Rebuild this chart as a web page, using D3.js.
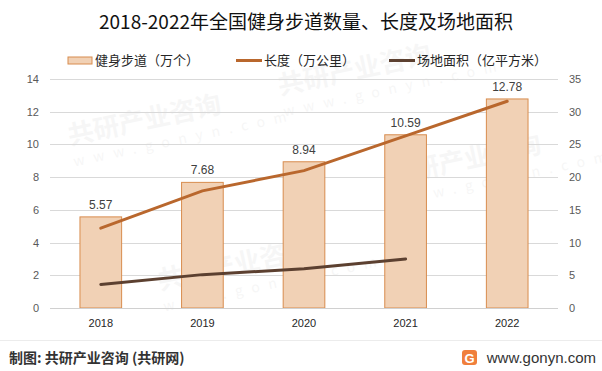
<!DOCTYPE html>
<html>
<head>
<meta charset="utf-8">
<script src="https://cdn.jsdelivr.net/npm/d3@7"></script>
<style>
  body { margin: 0; background: #fff; }
  svg { display: block; font-family: "Noto Sans CJK SC", "Noto Sans", sans-serif; }
</style>
</head>
<body>
<svg id="chart"></svg>
<script>
// chart data
const years = ['2018', '2019', '2020', '2021', '2022'];
const trailCount = [5.57, 7.68, 8.94, 10.59, 12.78];      // 健身步道（万个）
const trailLength = [12.2, 17.9, 21.0, 26.3, 31.6];       // 长度（万公里）
const siteArea = [3.6, 5.1, 6.0, 7.5, null];              // 场地面积（亿平方米）
const leftTicks = [0, 2, 4, 6, 8, 10, 12, 14];
const rightTicks = [0, 5, 10, 15, 20, 25, 30, 35];

const width = 602;
const height = 371;
const margin = { top: 79, right: 44, bottom: 63, left: 50 };
const innerWidth = width - margin.left - margin.right;
const innerHeight = height - margin.top - margin.bottom;

const barColor = '#f1d1b5';
const barStroke = '#d88c4e';
const lengthColor = '#b9672d';
const areaColor = '#5c4030';
const numFont = '"Liberation Sans", Arial, sans-serif';

const svg = d3.select('#chart')
  .attr('width', width)
  .attr('height', height);

// faint watermarks
const marks = [[70, 145], [280, 95], [390, 185], [160, 290]];
marks.forEach(([mx, my]) => {
  const w = svg.append('g')
    .attr('transform', `translate(${mx},${my}) rotate(-12)`)
    .attr('fill', '#000')
    .attr('opacity', 0.03);
  w.append('text').attr('font-size', 26).attr('font-weight', 700).text('共研产业咨询');
  w.append('text').attr('y', 22).attr('font-size', 14).attr('letter-spacing', 9).text('www.gonyn.com');
});

// title
svg.append('text')
  .attr('x', 306)
  .attr('y', 29)
  .attr('text-anchor', 'middle')
  .attr('font-size', 19)
  .attr('fill', '#111')
  .text('2018-2022年全国健身步道数量、长度及场地面积');

// scales
const x = d3.scaleBand()
  .domain(years)
  .range([0, innerWidth])
  .paddingInner(0.59)
  .paddingOuter(0.295);

const yLeft = d3.scaleLinear().domain([0, 14]).range([innerHeight, 0]);
const yRight = d3.scaleLinear().domain([0, 35]).range([innerHeight, 0]);

const g = svg.append('g')
  .attr('transform', `translate(${margin.left},${margin.top})`);

// gridlines
g.selectAll('.grid')
  .data(leftTicks)
  .enter()
  .append('line')
  .attr('x1', 0)
  .attr('x2', innerWidth)
  .attr('y1', d => Math.round(yLeft(d)) + 0.5)
  .attr('y2', d => Math.round(yLeft(d)) + 0.5)
  .attr('stroke', '#d9d9d9')
  .attr('stroke-width', 1);

// left tick labels
g.selectAll('.left-tick')
  .data(leftTicks)
  .enter()
  .append('text')
  .attr('x', -11)
  .attr('y', d => yLeft(d) + 4)
  .attr('text-anchor', 'end')
  .attr('font-size', 11)
  .attr('fill', '#595959')
  .attr('font-family', numFont)
  .text(d => d);

// right tick labels
g.selectAll('.right-tick')
  .data(rightTicks)
  .enter()
  .append('text')
  .attr('x', innerWidth + 11)
  .attr('y', d => yRight(d) + 4)
  .attr('font-size', 11)
  .attr('fill', '#595959')
  .attr('font-family', numFont)
  .text(d => d);

// bars
g.selectAll('.bar')
  .data(years)
  .enter()
  .append('rect')
  .attr('x', d => x(d))
  .attr('y', (d, i) => yLeft(trailCount[i]))
  .attr('width', x.bandwidth())
  .attr('height', (d, i) => innerHeight - yLeft(trailCount[i]))
  .attr('fill', barColor)
  .attr('stroke', barStroke)
  .attr('stroke-width', 1);

// bar labels
g.selectAll('.bar-label')
  .data(years)
  .enter()
  .append('text')
  .attr('x', d => x(d) + x.bandwidth() / 2)
  .attr('y', (d, i) => yLeft(trailCount[i]) - 8)
  .attr('text-anchor', 'middle')
  .attr('font-size', 12)
  .attr('fill', '#404040')
  .attr('font-family', numFont)
  .text((d, i) => trailCount[i].toFixed(2));

// x axis line and labels
g.append('line')
  .attr('x1', 0)
  .attr('x2', innerWidth)
  .attr('y1', innerHeight + 0.5)
  .attr('y2', innerHeight + 0.5)
  .attr('stroke', '#d0d0d0');

g.selectAll('.x-label')
  .data(years)
  .enter()
  .append('text')
  .attr('x', d => x(d) + x.bandwidth() / 2)
  .attr('y', innerHeight + 19)
  .attr('text-anchor', 'middle')
  .attr('font-size', 11)
  .attr('fill', '#262626')
  .attr('font-family', numFont)
  .text(d => d);

// lines (right axis)
const line = d3.line()
  .defined(d => d.v != null)
  .x(d => x(d.year) + x.bandwidth() / 2)
  .y(d => yRight(d.v));

g.append('path')
  .datum(years.map((year, i) => ({ year, v: trailLength[i] })))
  .attr('d', line)
  .attr('fill', 'none')
  .attr('stroke', lengthColor)
  .attr('stroke-width', 3)
  .attr('stroke-linecap', 'round');

g.append('path')
  .datum(years.map((year, i) => ({ year, v: siteArea[i] })))
  .attr('d', line)
  .attr('fill', 'none')
  .attr('stroke', areaColor)
  .attr('stroke-width', 3)
  .attr('stroke-linecap', 'round');

// legend
const legend = svg.append('g').attr('font-size', 13).attr('fill', '#262626');
legend.append('rect')
  .attr('x', 68).attr('y', 57).attr('width', 24).attr('height', 7)
  .attr('fill', barColor).attr('stroke', barStroke);
legend.append('text').attr('x', 95).attr('y', 65).text('健身步道（万个）');
legend.append('line')
  .attr('x1', 236).attr('x2', 262).attr('y1', 60.5).attr('y2', 60.5)
  .attr('stroke', lengthColor).attr('stroke-width', 3);
legend.append('text').attr('x', 264).attr('y', 65).text('长度（万公里）');
legend.append('line')
  .attr('x1', 389).attr('x2', 415).attr('y1', 60.5).attr('y2', 60.5)
  .attr('stroke', areaColor).attr('stroke-width', 3);
legend.append('text').attr('x', 417).attr('y', 65).text('场地面积（亿平方米）');

// footer
svg.append('line')
  .attr('x1', 0).attr('x2', width)
  .attr('y1', 340.5).attr('y2', 340.5)
  .attr('stroke', '#ececec');

svg.append('text')
  .attr('x', 9)
  .attr('y', 363)
  .attr('font-size', 14)
  .attr('font-weight', 700)
  .attr('fill', '#333')
  .text('制图: 共研产业咨询 (共研网)');

const logo = svg.append('g').attr('transform', 'translate(462,350)');
logo.append('rect')
  .attr('width', 15).attr('height', 15).attr('rx', 3)
  .attr('fill', '#f07f3c');
logo.append('text')
  .attr('x', 7.5).attr('y', 12.5)
  .attr('text-anchor', 'middle')
  .attr('font-size', 13)
  .attr('font-weight', 700)
  .attr('fill', '#fff')
  .attr('font-family', numFont)
  .text('G');

svg.append('text')
  .attr('x', 596)
  .attr('y', 363)
  .attr('text-anchor', 'end')
  .attr('font-size', 15)
  .attr('fill', '#333')
  .attr('font-family', numFont)
  .text('www.gonyn.com');
</script>
</body>
</html>
